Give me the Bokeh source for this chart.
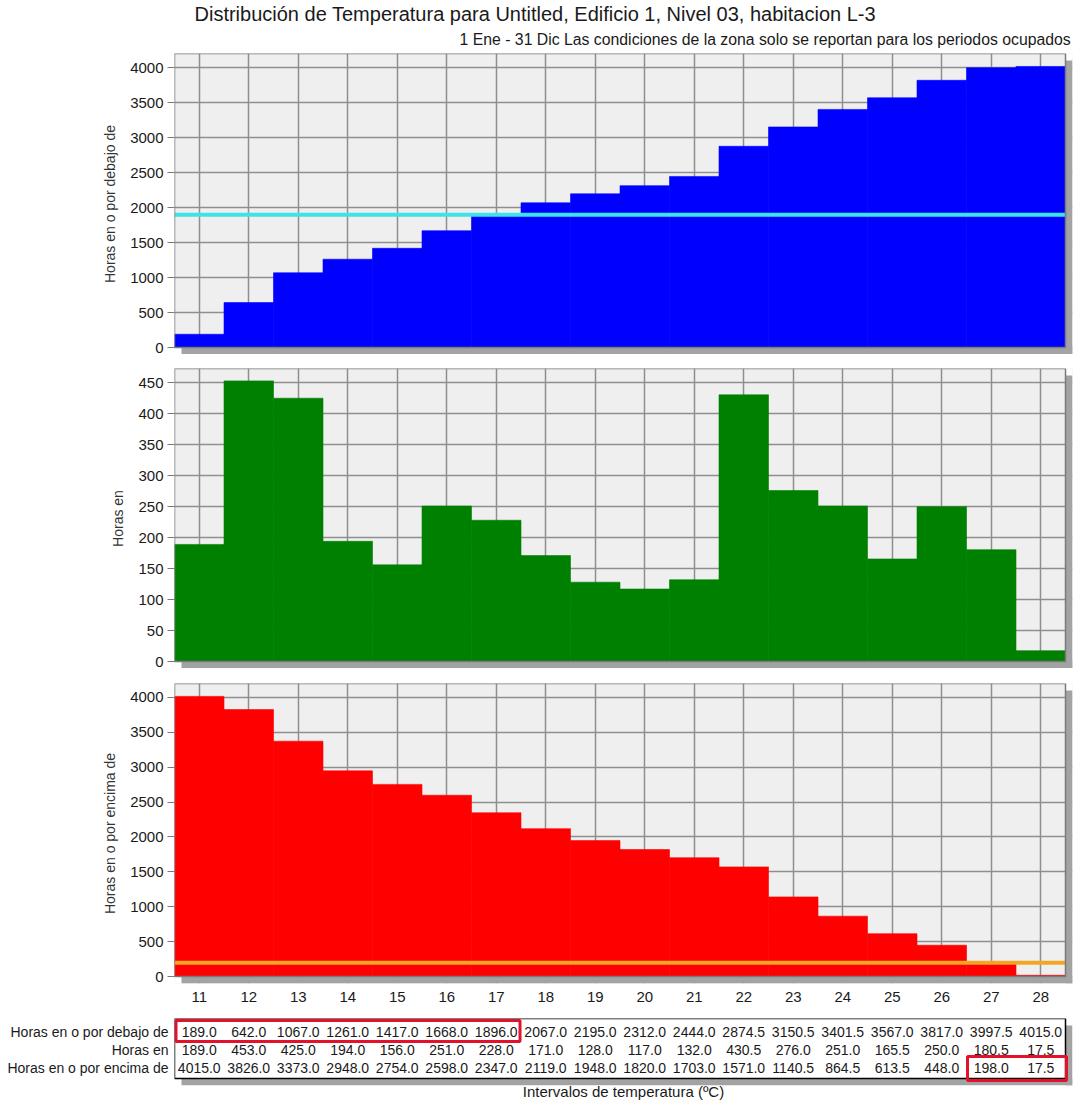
from bokeh.plotting import figure
from bokeh.layouts import column
from bokeh.models import Range1d, FixedTicker, ColumnDataSource, Title
from bokeh.core.properties import value
from bokeh.embed import file_html
from bokeh.resources import INLINE

FONT = "Liberation Sans"

# ---------------- data ----------------
temps = [11, 12, 13, 14, 15, 16, 17, 18, 19, 20, 21, 22, 23, 24, 25, 26, 27, 28]
hours_at_or_below = [189.0, 642.0, 1067.0, 1261.0, 1417.0, 1668.0, 1896.0, 2067.0, 2195.0,
                     2312.0, 2444.0, 2874.5, 3150.5, 3401.5, 3567.0, 3817.0, 3997.5, 4015.0]
hours_in = [189.0, 453.0, 425.0, 194.0, 156.0, 251.0, 228.0, 171.0, 128.0,
            117.0, 132.0, 430.5, 276.0, 251.0, 165.5, 250.0, 180.5, 17.5]
hours_at_or_above = [4015.0, 3826.0, 3373.0, 2948.0, 2754.0, 2598.0, 2347.0, 2119.0, 1948.0,
                     1820.0, 1703.0, 1571.0, 1140.5, 864.5, 613.5, 448.0, 198.0, 17.5]
below_limit = 1896.0
above_limit = 198.0
top_ticks = [0, 500, 1000, 1500, 2000, 2500, 3000, 3500, 4000]
mid_ticks = [0, 50, 100, 150, 200, 250, 300, 350, 400, 450]
bot_ticks = [0, 500, 1000, 1500, 2000, 2500, 3000, 3500, 4000]
row_labels = ["Horas en o por debajo de", "Horas en", "Horas en o por encima de"]
title_text = "Distribución de Temperatura para Untitled, Edificio 1, Nivel 03, habitacion L-3"
subtitle_text = "1 Ene - 31 Dic   Las condiciones de la zona solo se reportan para los periodos ocupados"
x_label = "Intervalos de temperatura (ºC)"
highlight_below = [11, 17]   # columns boxed in first table row
highlight_above = [27, 28]   # columns boxed in third table row

# ---------------- layout constants ----------------
W = 1075
FL = 174
FW = 891
SH = 7                      # drop-shadow offset, px
FR = W - FL - FW - SH
X0 = temps[0] - 0.5
X1 = temps[-1] + 0.5
PPU = FW / (X1 - X0)
DX = SH / PPU
SHADOW = "#a3a3a3"
BG = "#efefef"
GRID = "#8f8f8f"
EDGE = "#7a7a7a"
TXT = "#1a1a1a"


def make_panel(vals, color, y_end, ticks, label, top_b, frame_h, bottom_b, show_x):
    ppy = frame_h / y_end
    dy = SH / ppy
    p = figure(frame_width=FW + SH, frame_height=frame_h + SH,
               x_range=Range1d(X0, X1 + DX), y_range=Range1d(-dy, y_end),
               min_border_left=FL, min_border_right=FR,
               min_border_top=top_b, min_border_bottom=bottom_b,
               toolbar_location=None, output_backend="svg")
    p.background_fill_color = BG
    p.border_fill_color = "white"
    p.outline_line_color = None
    p.xgrid.ticker = FixedTicker(ticks=temps)
    p.ygrid.ticker = FixedTicker(ticks=ticks)
    p.grid.grid_line_color = GRID
    p.grid.grid_line_width = 1.5
    # white area outside the plot box (shadow margin), then the shadow itself
    p.quad(left=[X1, X0], right=[X1 + DX, X1 + DX], bottom=[-dy, -dy], top=[y_end, 0],
           fill_color="white", line_color=None)
    p.quad(left=[X0 + DX, X1], right=[X1 + DX, X1 + DX], bottom=[-dy, -dy], top=[0, y_end - dy],
           fill_color=SHADOW, line_color=None)
    src = ColumnDataSource(dict(x=temps, top=vals))
    p.vbar(x="x", top="top", bottom=0, width=1.0, source=src,
           fill_color=color, line_color=color, line_width=0.6)
    p.yaxis.ticker = FixedTicker(ticks=ticks)
    p.yaxis.axis_label = label
    p.yaxis.axis_label_text_font = FONT
    p.yaxis.axis_label_text_font_size = "14px"
    p.yaxis.axis_label_text_font_style = "normal"
    p.yaxis.axis_label_text_color = "#333333"
    p.yaxis.axis_label_standoff = 9
    p.yaxis.major_label_text_font = FONT
    p.yaxis.major_label_text_font_size = "15px"
    p.yaxis.major_label_text_color = TXT
    p.yaxis.major_label_standoff = 4
    p.yaxis.major_tick_out = 7
    p.yaxis.major_tick_in = 0
    p.yaxis.major_tick_line_color = EDGE
    p.yaxis.minor_tick_line_color = None
    p.yaxis.axis_line_color = None
    if show_x:
        p.xaxis.ticker = FixedTicker(ticks=temps)
        p.xaxis.major_label_text_font = FONT
        p.xaxis.major_label_text_font_size = "15px"
        p.xaxis.major_label_text_color = TXT
        p.xaxis.major_label_standoff = 8
        p.xaxis.major_tick_out = 0
        p.xaxis.major_tick_in = 0
        p.xaxis.major_tick_line_color = None
        p.xaxis.minor_tick_line_color = None
        p.xaxis.axis_line_color = None
    else:
        p.xaxis.visible = False
    return p, y_end


def frame_box(p, y_end):
    p.quad(left=[X0], right=[X1], bottom=[0], top=[y_end],
           fill_color=None, line_color=EDGE, line_width=1.5)


# ---------------- panels ----------------
pa, ya = make_panel(hours_at_or_below, "#0000ff", 4200, top_ticks, row_labels[0], 53, 294, 0, False)
pa.segment(x0=[X0], x1=[X1], y0=[below_limit], y1=[below_limit], line_color="#3ee3e8", line_width=4)
frame_box(pa, ya)
pa.add_layout(Title(text=subtitle_text, align="right", offset=-7, standoff=11,
                    text_font=FONT, text_font_size="15.8px", text_font_style="normal",
                    text_color=TXT), "above")
pa.add_layout(Title(text=title_text, align="left", offset=20, standoff=-2,
                    text_font=FONT, text_font_size="20px", text_font_style="normal",
                    text_color=TXT), "above")

pb, yb_ = make_panel(hours_in, "#008000", 473, mid_ticks, row_labels[1], 14, 293, 0, False)
frame_box(pb, yb_)

pc, yc = make_panel(hours_at_or_above, "#ff0000", 4200, bot_ticks, row_labels[2], 15, 293, 25, True)
pc.segment(x0=[X0], x1=[X1], y0=[above_limit], y1=[above_limit], line_color="#f2a623", line_width=4)
frame_box(pc, yc)

# ---------------- table ----------------
TFH = 60
row_y = [13, 31, 49]
tb = figure(frame_width=FW + SH, frame_height=TFH + SH,
            x_range=Range1d(X0, X1 + DX), y_range=Range1d(TFH + SH, 0),
            min_border_left=FL, min_border_right=FR, min_border_top=10, min_border_bottom=15,
            toolbar_location=None, output_backend="svg")
tb.grid.visible = False
tb.background_fill_color = "white"
tb.border_fill_color = "white"
tb.outline_line_color = None
# row labels as y-axis tick labels
tb.yaxis.ticker = FixedTicker(ticks=row_y)
tb.yaxis.major_label_overrides = {y: lab for y, lab in zip(row_y, row_labels)}
tb.yaxis.major_label_text_font = FONT
tb.yaxis.major_label_text_font_size = "14px"
tb.yaxis.major_label_text_color = TXT
tb.yaxis.major_label_standoff = 6
tb.yaxis.major_tick_out = 0
tb.yaxis.major_tick_in = 0
tb.yaxis.minor_tick_line_color = None
tb.yaxis.axis_line_color = None
tb.yaxis.major_tick_line_color = None
# x label below the table
tb.xaxis.ticker = FixedTicker(ticks=[])
tb.xaxis.axis_label = x_label
tb.xaxis.axis_label_text_font = FONT
tb.xaxis.axis_label_text_font_size = "15px"
tb.xaxis.axis_label_text_font_style = "normal"
tb.xaxis.axis_label_text_color = TXT
tb.xaxis.axis_label_standoff = -3
tb.xaxis.major_label_standoff = 0
tb.xaxis.major_tick_out = 0
tb.xaxis.major_tick_in = 0
tb.xaxis.axis_line_color = None
tb.xaxis.minor_tick_line_color = None

# shadow + box
tb.quad(left=[X0 + DX, X1], right=[X1 + DX, X1 + DX], top=[TFH, SH], bottom=[TFH + SH, TFH + SH],
        fill_color=SHADOW, line_color=None)
tb.quad(left=[X0], right=[X1], top=[0], bottom=[TFH],
        fill_color="white", line_color="black", line_width=1.5)

rows = [hours_at_or_below, hours_in, hours_at_or_above]
for vals, yr in zip(rows, row_y):
    src = ColumnDataSource(dict(x=temps, y=[yr] * len(temps), t=["%.1f" % v for v in vals]))
    tb.text(x="x", y="y", text="t", source=src, text_align="center", text_baseline="middle",
            text_font=value(FONT), text_font_size="14px", text_color=TXT)

# red highlight boxes
RED = "#e3112b"
tb.quad(left=[highlight_below[0] - 0.5 + 1.5 / PPU, highlight_above[0] - 0.5 + 1 / PPU],
        right=[highlight_below[1] + 0.5 - 1 / PPU, highlight_above[1] + 0.5 + 1 / PPU],
        top=[2, 38], bottom=[23, 62],
        fill_color=None, line_color=RED, line_width=3)

layout = column(pa, pb, pc, tb, spacing=0)
open("out.html", "w").write(file_html(layout, INLINE))
